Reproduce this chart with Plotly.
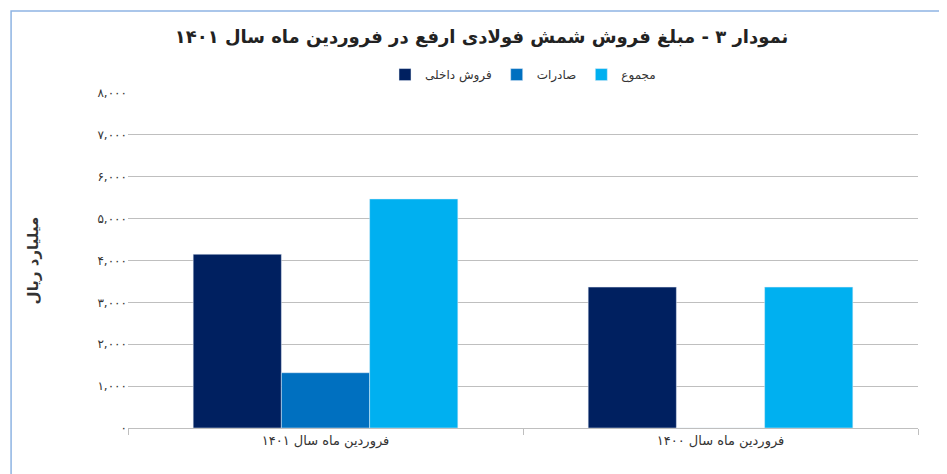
import plotly.graph_objects as go

categories = ["فروردین ماه سال ۱۴۰۱", "فروردین ماه سال ۱۴۰۰"]
series_names = ["فروش داخلی", "صادرات", "مجموع"]
domestic = [4150, 3365]
exports = [1320, 0]
total = [5470, 3365]
colors = ["#002060", "#0070C0", "#00B0F0"]
tick_vals = [0, 1000, 2000, 3000, 4000, 5000, 6000, 7000, 8000]
tick_text = ["۰", "۱,۰۰۰", "۲,۰۰۰", "۳,۰۰۰", "۴,۰۰۰", "۵,۰۰۰", "۶,۰۰۰", "۷,۰۰۰", "۸,۰۰۰"]

fig = go.Figure()
for name, vals, c in zip(series_names, [domestic, exports, total], colors):
    fig.add_trace(go.Bar(name=name, x=categories, y=vals, marker_color=c))

fig.update_layout(
    width=947, height=474,
    margin=dict(l=120, r=37, t=85, b=54, autoexpand=False),
    paper_bgcolor="white", plot_bgcolor="white",
    font=dict(family="DejaVu Sans", color="#333"),
    barmode="group", bargap=0.33, bargroupgap=0,
    title=dict(text="<b>نمودار ۳ - مبلغ فروش شمش فولادی ارفع در فروردین ماه سال ۱۴۰۱</b>",
               x=0.5, y=0.94, xanchor="center", yanchor="middle", font=dict(size=18, color="#222")),
    legend=dict(orientation="h", x=0.5, xanchor="center", y=1.055, yanchor="middle",
                font=dict(size=12), traceorder="normal"),
    yaxis=dict(range=[0, 8000], tickvals=tick_vals, ticktext=tick_text, automargin=False,
               gridcolor="#BFBFBF", zeroline=False, tickfont=dict(size=12),
               title=dict(text="<b>میلیارد ریال</b>", font=dict(size=15), standoff=55),
               ticks="", showline=False),
    xaxis=dict(showline=True, linecolor="#BFBFBF", ticks="outside", tickcolor="#BFBFBF",
               tickson="boundaries", ticklen=6, tickfont=dict(size=13), automargin=False),
    shapes=[dict(type="rect", xref="paper", yref="paper",
                 x0=-0.148, x1=1.043, y0=-0.152, y1=1.245,
                 line=dict(color="#8EB4E3", width=1.5))],
)
fig.write_html("out.html")
